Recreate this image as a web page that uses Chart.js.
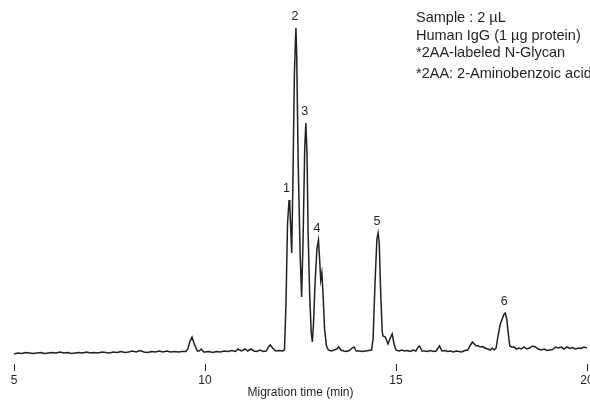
<!DOCTYPE html>
<html lang="en">
<head>
    <meta charset="UTF-8">
    <title>Human IgG N-Glycan electropherogram</title>
    <script src="https://cdn.jsdelivr.net/npm/chart.js"></script>
    <style>
        body { margin: 0; background: #fff; }
        .wrap { width: 590px; height: 400px; position: relative; }
    </style>
</head>
<body>
    <div class="wrap">
        <canvas id="egram"></canvas>
    </div>
    <script>
        // trace: migration time (min) and detector signal (a.u.)
        const migrationTime = [
            5.0, 5.1, 5.2, 5.3, 5.4, 5.5, 5.6, 5.7, 5.8, 5.9,
            6.0, 6.1, 6.2, 6.3, 6.4, 6.5, 6.6, 6.7, 6.8, 6.9,
            7.0, 7.1, 7.2, 7.3, 7.4, 7.5, 7.6, 7.7, 7.8, 7.9,
            8.0, 8.1, 8.2, 8.3, 8.4, 8.5, 8.6, 8.7, 8.8, 8.9,
            9.0, 9.1, 9.2, 9.3, 9.4, 9.5, 9.55, 9.6, 9.66, 9.72,
            9.8, 9.85, 9.9, 9.97, 10.0, 10.1, 10.2, 10.3, 10.4, 10.5,
            10.6, 10.7, 10.8, 10.86, 10.95, 11.05, 11.12, 11.2, 11.28, 11.35,
            11.45, 11.52, 11.6, 11.66, 11.71, 11.77, 11.85, 11.95, 12.03, 12.08,
            12.12, 12.16, 12.2, 12.22, 12.27, 12.3, 12.34, 12.38, 12.4, 12.44,
            12.49, 12.53, 12.57, 12.61, 12.64, 12.67, 12.7, 12.74, 12.78, 12.81,
            12.84, 12.88, 12.93, 12.97, 13.0, 13.03, 13.06, 13.09, 13.13, 13.18,
            13.23, 13.3, 13.38, 13.45, 13.5, 13.56, 13.63, 13.7, 13.78, 13.85,
            13.9, 13.96, 14.05, 14.12, 14.2, 14.28, 14.36, 14.4, 14.45, 14.5,
            14.53, 14.56, 14.6, 14.64, 14.66, 14.72, 14.79, 14.85, 14.9, 14.95,
            15.0, 15.08, 15.15, 15.22, 15.3, 15.38, 15.45, 15.52, 15.58, 15.62,
            15.68, 15.75, 15.82, 15.9, 15.98, 16.05, 16.1, 16.14, 16.2, 16.28,
            16.35, 16.42, 16.5, 16.58, 16.65, 16.72, 16.8, 16.88, 16.95, 17.0,
            17.05, 17.1, 17.15, 17.2, 17.27, 17.33, 17.4, 17.47, 17.52, 17.57,
            17.62, 17.68, 17.73, 17.78, 17.83, 17.86, 17.9, 17.94, 17.98, 18.03,
            18.1, 18.15, 18.22, 18.28, 18.35, 18.42, 18.5, 18.57, 18.65, 18.72,
            18.8, 18.88, 18.95, 19.02, 19.1, 19.18, 19.25, 19.32, 19.4, 19.47,
            19.55, 19.62, 19.7, 19.78, 19.85, 19.92, 20.0
        ];
        const signal = [
            0, 1, 0.5, 1.5, 1, 0.5, 1, 1.5, 0.5, 1,
            1.5, 1, 2, 1, 1.5, 0.5, 1, 1.5, 1, 2,
            1, 1.5, 1, 2, 1.5, 1, 2, 1.5, 2.5, 1.5,
            2, 3, 2, 3.5, 2, 1.5, 2.5, 2, 3, 2,
            3, 2, 2.5, 2, 2.5, 2.5, 5, 12, 17, 10,
            3, 3, 5, 2, 2, 2.5, 1.5, 2.5, 2, 3,
            2.5, 3.5, 2.5, 5, 3, 5, 3, 5, 3, 2.5,
            4, 2.5, 3, 7, 9, 6, 3, 3.5, 3, 4,
            50, 130, 154, 148, 101, 170, 280, 326, 300, 190,
            100, 57, 120, 205, 231, 200, 120, 60, 22, 12,
            30, 70, 105, 114, 95, 74, 81, 60, 25, 8,
            4, 3, 4, 5, 7, 4, 3, 2.5, 3.5, 6,
            7, 3, 3, 2.5, 3, 3.5, 4, 15, 70, 115,
            121, 112, 60, 22, 18, 17, 10, 16, 20, 10,
            4, 3, 4, 3, 3.5, 2.5, 4, 3, 7, 8,
            3, 3, 2.5, 3.5, 2.5, 3, 6, 8, 3, 3.5,
            2.5, 3, 2, 3, 2.5, 2, 3.5, 4, 9, 12,
            10, 8, 8.5, 7, 7.5, 6, 5, 4, 6, 4,
            6, 20, 30, 35, 40, 41, 35, 20, 8, 7,
            7, 5, 6, 5, 7, 5, 6, 8, 7, 5,
            4, 5, 3.5, 4, 4.5, 7, 6, 7, 5, 7,
            5.5, 6.5, 5, 6, 5.5, 7, 6
        ];

        // peak numbering
        const peakLabels = ['1', '2', '3', '4', '5', '6'];
        const peakTimes = [12.16, 12.38, 12.64, 12.96, 14.53, 17.86];
        const peakValues = [154, 326, 231, 114, 121, 41];

        // x axis ticks
        const timeTicks = [5, 10, 15, 20];

        const noteLines = [
            'Sample : 2 µL',
            'Human IgG (1 µg protein)',
            '*2AA-labeled N-Glycan',
            '*2AA: 2-Aminobenzoic acid'
        ];

        const ink = '#231f20';
        const fontFam = '"Liberation Sans", Arial, sans-serif';

        const annotations = {
            id: 'annotations',
            afterDatasetsDraw(chart) {
                const ctx = chart.ctx;
                const xs = chart.scales.x, ys = chart.scales.y;
                ctx.save();
                ctx.fillStyle = ink;
                ctx.font = '12.5px ' + fontFam;
                ctx.textAlign = 'center';
                ctx.textBaseline = 'bottom';
                peakLabels.forEach((lab, i) => {
                    ctx.fillText(lab, xs.getPixelForValue(peakTimes[i]) - 1, ys.getPixelForValue(peakValues[i]) - 5);
                });
                // sample note, top right
                ctx.textAlign = 'left';
                ctx.textBaseline = 'middle';
                ctx.font = '14.5px ' + fontFam;
                const noteY = [18, 35.5, 53, 73.5];
                noteLines.forEach((line, i) => ctx.fillText(line, 416, noteY[i]));
                ctx.restore();
            }
        };

        const points = migrationTime.map((t, i) => ({ x: t, y: signal[i] }));

        new Chart(document.getElementById('egram'), {
            type: 'line',
            data: {
                datasets: [{
                    data: points,
                    borderColor: ink,
                    borderWidth: 1.5,
                    pointRadius: 0,
                    tension: 0,
                    fill: false
                }]
            },
            options: {
                responsive: true,
                maintainAspectRatio: false,
                animation: false,
                layout: { padding: { left: 14, right: 3, top: 10, bottom: 0 } },
                plugins: {
                    legend: { display: false },
                    tooltip: { enabled: false }
                },
                scales: {
                    x: {
                        type: 'linear',
                        min: 5,
                        max: 20,
                        afterBuildTicks(scale) {
                            scale.ticks = timeTicks.map(v => ({ value: v }));
                        },
                        afterFit(scale) {
                            scale.height = 36;
                            scale.paddingLeft = 0;
                            scale.paddingRight = 0;
                        },
                        border: { display: false },
                        grid: {
                            drawOnChartArea: false,
                            drawTicks: true,
                            tickLength: 7,
                            tickColor: ink,
                            tickWidth: 1
                        },
                        ticks: {
                            color: ink,
                            padding: 2,
                            maxRotation: 0,
                            autoSkip: false,
                            font: { family: fontFam, size: 12 }
                        },
                        title: {
                            display: true,
                            text: 'Migration time (min)',
                            color: ink,
                            padding: 0,
                            font: { family: fontFam, size: 12 }
                        }
                    },
                    y: {
                        display: false,
                        min: -10,
                        max: 344
                    }
                }
            },
            plugins: [annotations]
        });
    </script>
</body>
</html>
